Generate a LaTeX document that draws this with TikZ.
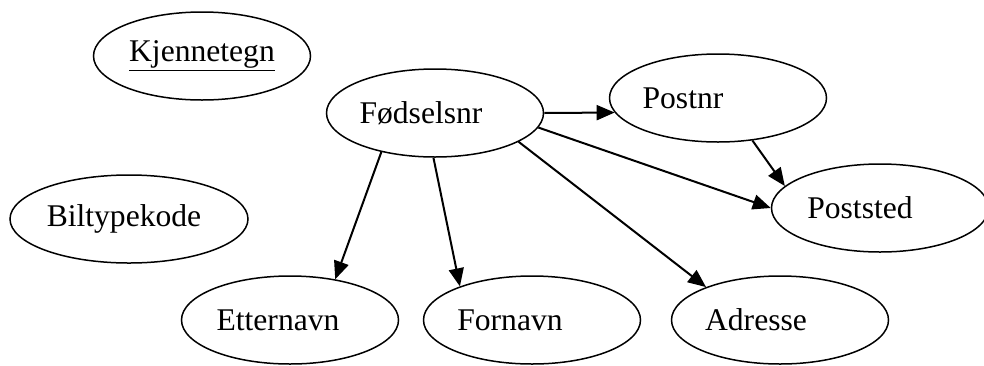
\documentclass[tikz,border=0pt]{standalone}
\usepackage{fontspec}
\setmainfont{Liberation Serif}
\usetikzlibrary{shapes.geometric, arrows.meta}
\tikzset{
	attr/.style={
		ellipse,
		draw,
		line width=0.75pt,
		minimum width=108.5pt,
		minimum height=44pt,
		inner sep=0pt,
		font={\fontsize{15.8}{19}\selectfont}
	},
	wide/.style={
		minimum width=119pt,
	},
	dep/.style={
		line width=1pt,
		-{Triangle[length=9pt,width=7.5pt]}
	}
}
% shift the label left inside the ellipse
\newcommand{\lft}[2]{#1\hspace*{#2pt}}

\begin{document}
\begin{tikzpicture}[x=0.5pt,y=-0.5pt]
\useasboundingbox (0,0) rectangle (984,365);

\node[attr](kjt) at (202,56) {\underline{Kjennetegn}};
\node[attr](fnr) at (435,113) {\lft{Fødselsnr}{14}};
\node[attr](pnr) at (718,98) {\lft{Postnr}{35}};
\node[attr](psted) at (880,208) {\lft{Poststed}{20}};
\node[attr,wide](btk) at (129,219) {\lft{Biltypekode}{5}};
\node[attr](enavn) at (290,320) {\lft{Etternavn}{12}};
\node[attr](fnavn) at (532,320) {\lft{Fornavn}{22}};
\node[attr](adr) at (780,320) {\lft{Adresse}{24}};

\draw[dep] (fnr.east) -- (pnr.188);
\draw[dep] (fnr.-8) -- (psted.west);
\draw[dep] (pnr.-51) -- (psted.167);
\draw[dep] (fnr.216) -- (enavn.42);
\draw[dep] (fnr.-92) -- (fnavn.155);
\draw[dep] (fnr.-19) -- (adr.156);
\end{tikzpicture}
\end{document}
